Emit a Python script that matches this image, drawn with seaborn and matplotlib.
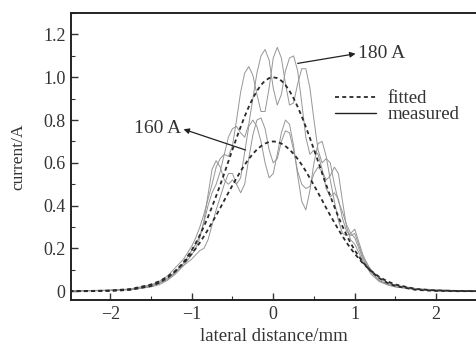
import matplotlib
matplotlib.use("Agg")
import matplotlib.pyplot as plt
from matplotlib.lines import Line2D
from matplotlib.ticker import MultipleLocator, FuncFormatter
import seaborn as sns
import pandas as pd

# ---- data ----
x_grid = [-2.5, -2.25, -2.0, -1.75, -1.5, -1.4, -1.3, -1.2, -1.1, -1.0,
          -0.95, -0.9, -0.85, -0.8, -0.75, -0.7, -0.65, -0.6, -0.55, -0.5,
          -0.45, -0.4, -0.35, -0.3, -0.25, -0.2, -0.15, -0.1, -0.05, 0.0,
          0.05, 0.1, 0.15, 0.2, 0.25, 0.3, 0.35, 0.4, 0.45, 0.5,
          0.55, 0.6, 0.65, 0.7, 0.75, 0.8, 0.85, 0.9, 0.95, 1.0,
          1.1, 1.2, 1.3, 1.4, 1.5, 1.75, 2.0, 2.25, 2.5]

fitted_180 = [0.000, 0.000, 0.001, 0.006, 0.024, 0.039, 0.061, 0.093, 0.135, 0.191,
              0.225, 0.262, 0.303, 0.347, 0.395, 0.445, 0.497, 0.551, 0.607, 0.662,
              0.716, 0.768, 0.817, 0.862, 0.902, 0.936, 0.964, 0.984, 0.996, 1.000,
              0.996, 0.984, 0.964, 0.936, 0.902, 0.862, 0.817, 0.768, 0.716, 0.662,
              0.607, 0.551, 0.497, 0.445, 0.395, 0.347, 0.303, 0.262, 0.225, 0.191,
              0.135, 0.093, 0.061, 0.039, 0.024, 0.006, 0.001, 0.000, 0.000]

fitted_160 = [0.000, 0.001, 0.003, 0.010, 0.031, 0.046, 0.067, 0.095, 0.130, 0.175,
              0.200, 0.227, 0.257, 0.288, 0.321, 0.354, 0.389, 0.425, 0.460, 0.495,
              0.528, 0.561, 0.591, 0.618, 0.642, 0.662, 0.678, 0.690, 0.698, 0.700,
              0.698, 0.690, 0.678, 0.662, 0.642, 0.618, 0.591, 0.561, 0.528, 0.495,
              0.460, 0.425, 0.389, 0.354, 0.321, 0.288, 0.257, 0.227, 0.200, 0.175,
              0.130, 0.095, 0.067, 0.046, 0.031, 0.010, 0.003, 0.001, 0.000]

measured_180_a = [0.002, 0.003, 0.005, 0.010, 0.030, 0.045, 0.070, 0.110, 0.150, 0.210,
                  0.250, 0.300, 0.360, 0.430, 0.500, 0.580, 0.620, 0.640, 0.630, 0.680,
                  0.800, 0.930, 1.020, 1.050, 1.010, 0.920, 0.840, 0.840, 0.950, 1.090,
                  1.140, 1.090, 0.970, 0.870, 0.880, 0.970, 1.040, 1.040, 0.950, 0.800,
                  0.660, 0.600, 0.620, 0.600, 0.500, 0.420, 0.370, 0.310, 0.270, 0.250,
                  0.150, 0.090, 0.050, 0.035, 0.025, 0.010, 0.005, 0.003, 0.002]

measured_180_b = [0.001, 0.002, 0.004, 0.009, 0.025, 0.040, 0.060, 0.090, 0.130, 0.190,
                  0.220, 0.260, 0.320, 0.400, 0.460, 0.500, 0.560, 0.640, 0.720, 0.760,
                  0.770, 0.740, 0.720, 0.780, 0.900, 1.020, 1.100, 1.130, 1.080, 0.950,
                  0.870, 0.920, 1.030, 1.090, 1.100, 1.030, 0.880, 0.720, 0.640, 0.660,
                  0.640, 0.570, 0.480, 0.440, 0.460, 0.430, 0.340, 0.280, 0.260, 0.270,
                  0.160, 0.100, 0.060, 0.040, 0.028, 0.012, 0.006, 0.003, 0.002]

measured_160_a = [0.001, 0.002, 0.003, 0.007, 0.020, 0.030, 0.050, 0.080, 0.120, 0.170,
                  0.200, 0.250, 0.330, 0.450, 0.570, 0.610, 0.580, 0.520, 0.500, 0.520,
                  0.500, 0.530, 0.650, 0.770, 0.800, 0.770, 0.700, 0.600, 0.530, 0.550,
                  0.640, 0.740, 0.800, 0.780, 0.680, 0.540, 0.420, 0.380, 0.470, 0.600,
                  0.690, 0.700, 0.630, 0.520, 0.420, 0.330, 0.270, 0.260, 0.270, 0.290,
                  0.170, 0.090, 0.050, 0.030, 0.020, 0.008, 0.004, 0.002, 0.001]

measured_160_b = [0.001, 0.002, 0.004, 0.008, 0.022, 0.035, 0.055, 0.085, 0.120, 0.150,
                  0.170, 0.190, 0.200, 0.240, 0.310, 0.380, 0.440, 0.500, 0.550, 0.550,
                  0.500, 0.460, 0.500, 0.620, 0.730, 0.800, 0.810, 0.760, 0.660, 0.600,
                  0.620, 0.700, 0.750, 0.740, 0.660, 0.560, 0.500, 0.480, 0.490, 0.550,
                  0.580, 0.560, 0.520, 0.540, 0.580, 0.550, 0.420, 0.300, 0.240, 0.220,
                  0.140, 0.080, 0.045, 0.030, 0.020, 0.008, 0.004, 0.002, 0.001]

y_ticks = [0, 0.2, 0.4, 0.6, 0.8, 1.0, 1.2]
x_ticks = [-2, -1, 0, 1, 2]

# ---- plotting ----
sns.set_theme(style="white")
plt.rcParams['font.family'] = ['Liberation Serif', 'DejaVu Serif']

fig = plt.figure(figsize=(4.77, 3.45), dpi=100)
ax = fig.add_axes([0.149, 0.130, 0.851, 0.832])

meas_color = '#969696'
fit_color = '#2a2a2a'
text_color = '#333333'

for ys in [measured_180_a, measured_180_b, measured_160_a, measured_160_b]:
    sns.lineplot(x=x_grid, y=ys, ax=ax, color=meas_color, linewidth=0.7,
                 estimator=None, sort=False)
for ys in [fitted_180, fitted_160]:
    sns.lineplot(x=x_grid, y=ys, ax=ax, color=fit_color, linewidth=1.3,
                 linestyle=(0, (2.2, 1.8)), estimator=None, sort=False)

ax.set_xlim(-2.48, 2.5)
ax.set_ylim(-0.042, 1.3)
ax.set_xticks(x_ticks)
ax.set_yticks(y_ticks)
ax.xaxis.set_minor_locator(MultipleLocator(0.5))
ax.yaxis.set_minor_locator(MultipleLocator(0.1))
ax.yaxis.set_major_formatter(FuncFormatter(lambda v, p: '0' if abs(v) < 1e-9 else f'{v:.1f}'))
ax.xaxis.set_major_formatter(FuncFormatter(lambda v, p: f'\u2212{abs(int(v))}' if v < 0 else f'{int(v)}'))
ax.tick_params(axis='both', which='major', direction='in', length=5, width=1.0,
               labelsize=13, colors=text_color, pad=4)
ax.tick_params(axis='both', which='minor', direction='in', length=3, width=0.8,
               colors=text_color)
ax.tick_params(axis='x', which='both', bottom=True, top=False)
ax.tick_params(axis='y', which='both', left=True, right=False)

for s in ['left', 'bottom', 'top']:
    ax.spines[s].set_color('#222222')
    ax.spines[s].set_linewidth(1.4)
ax.spines['right'].set_visible(False)

ax.set_xlabel('lateral distance/mm', fontsize=13.5, color=text_color, labelpad=4)
ax.set_ylabel('current/A', fontsize=12.5, color=text_color, labelpad=12)

# annotations
ax.annotate('', xy=(1.01, 1.11), xytext=(0.30, 1.065),
            arrowprops=dict(arrowstyle='-|>', color='#222222', lw=0.9,
                            mutation_scale=8, shrinkA=0, shrinkB=0))
ax.text(1.04, 1.11, '180 A', fontsize=14, color=text_color, va='center', ha='left')
ax.annotate('', xy=(-1.10, 0.757), xytext=(-0.34, 0.66),
            arrowprops=dict(arrowstyle='-|>', color='#222222', lw=0.9,
                            mutation_scale=8, shrinkA=0, shrinkB=0))
ax.text(-1.13, 0.76, '160 A', fontsize=14, color=text_color, va='center', ha='right')

handles = [Line2D([], [], color=fit_color, lw=1.3, linestyle=(0, (2.2, 1.8))),
           Line2D([], [], color='#222222', lw=1.0)]
ax.legend(handles, ['fitted', 'measured'], loc='upper left',
          bbox_to_anchor=(0.64, 0.745), frameon=False, fontsize=13.5,
          handlelength=2.2, handletextpad=0.6, labelspacing=-0.05,
          borderaxespad=0.0, borderpad=0.2, labelcolor=text_color)

fig.savefig('out.png', dpi=100)
